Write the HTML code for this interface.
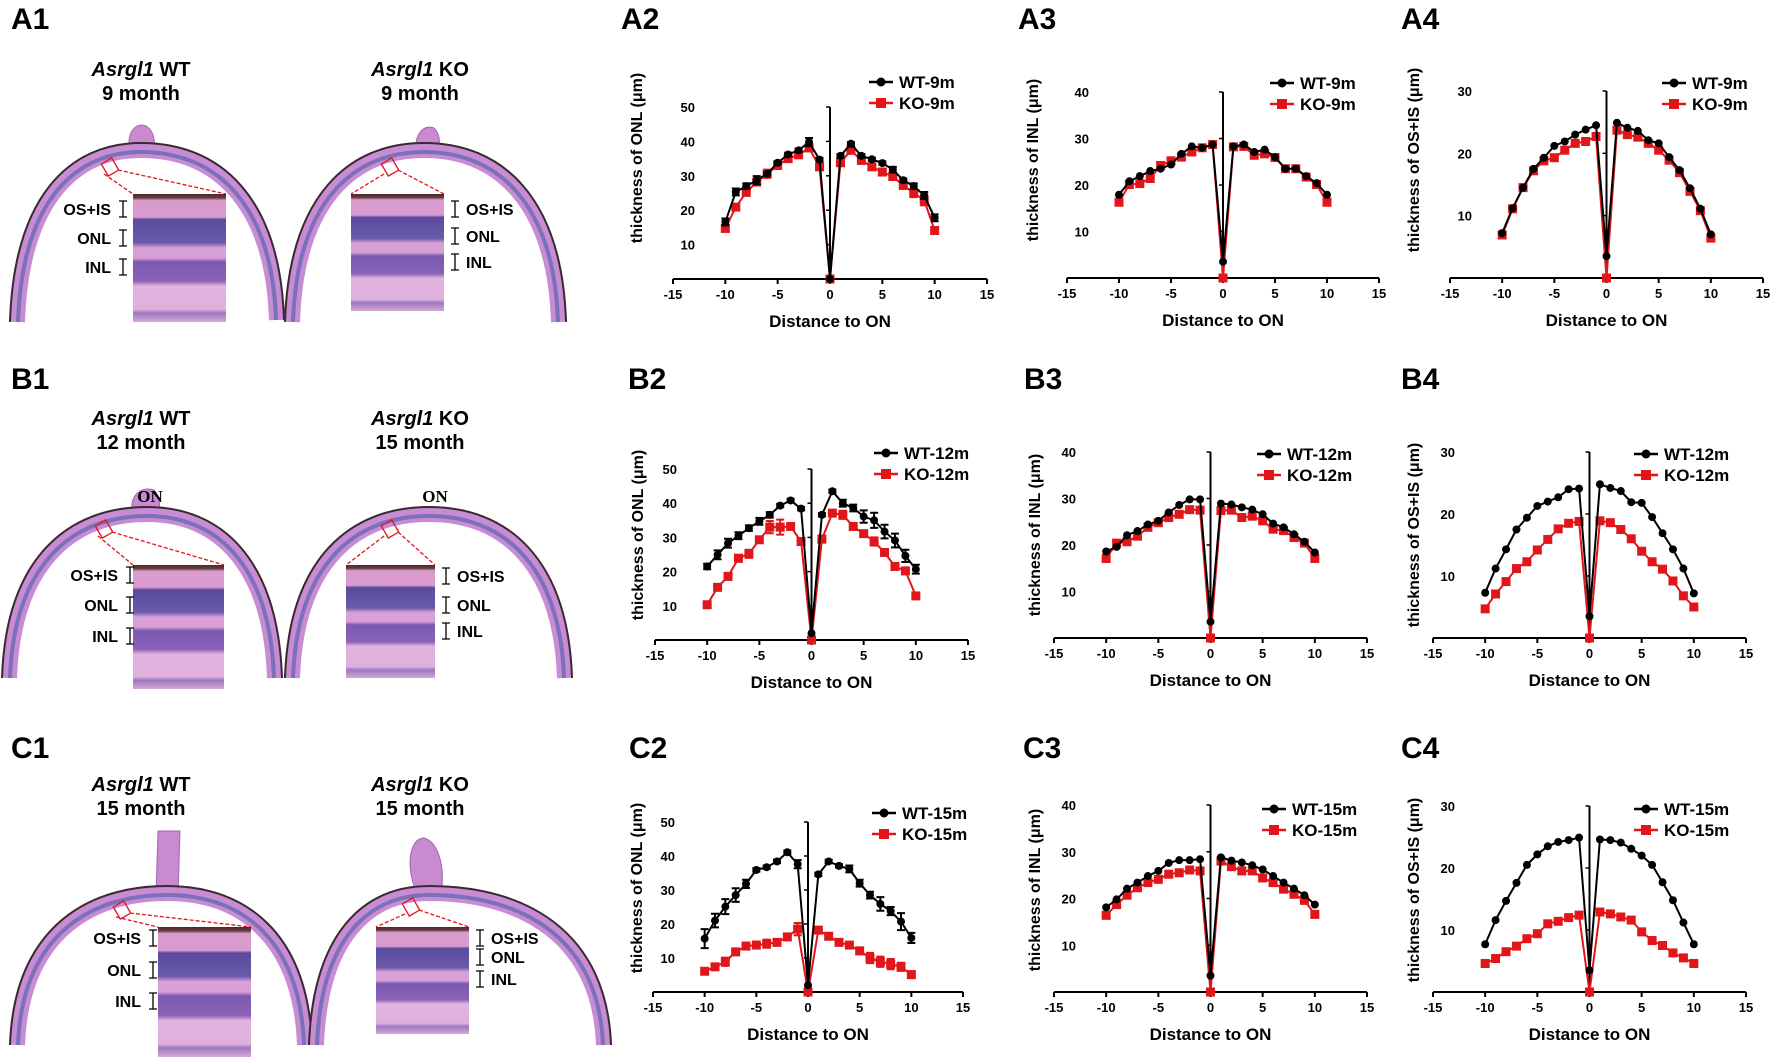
<!DOCTYPE html>
<html><head><meta charset="utf-8"><style>
html,body{margin:0;padding:0;background:#fff;}
svg{display:block;font-family:"Liberation Sans",Arial,sans-serif;}
</style></head><body>
<svg id="fig" width="1772" height="1060" viewBox="0 0 1772 1060" xmlns="http://www.w3.org/2000/svg">
<defs>
<linearGradient id="retA" x1="0" y1="0" x2="0" y2="1">
<stop offset="0" stop-color="#4a2a2a"/><stop offset="0.03" stop-color="#6a3a40"/>
<stop offset="0.05" stop-color="#d89ccc"/><stop offset="0.18" stop-color="#d99ad0"/>
<stop offset="0.2" stop-color="#5a4a9e"/><stop offset="0.38" stop-color="#6a5aaa"/>
<stop offset="0.42" stop-color="#d8a0d6"/><stop offset="0.5" stop-color="#d8a0d6"/>
<stop offset="0.53" stop-color="#7a5ab0"/><stop offset="0.68" stop-color="#8a62b8"/>
<stop offset="0.72" stop-color="#e3b3e0"/><stop offset="0.9" stop-color="#e0b0dc"/>
<stop offset="0.93" stop-color="#9a78c0"/><stop offset="1" stop-color="#d8a8d8"/>
</linearGradient>
</defs>
<g id="panels"></g>
<g id="charts"></g>
</svg>
<script>
const NS="http://www.w3.org/2000/svg";
const xs=[-10,-9,-8,-7,-6,-5,-4,-3,-2,-1,0,1,2,3,4,5,6,7,8,9,10];
const xTicks=[-15,-10,-5,0,5,10,15];
const A2W=[16.6,25.3,27,28.7,30.6,33.8,36.2,37.4,39.8,34.7,0,35.8,39.3,35.8,34.8,33.7,31.8,28.7,27,24.3,17.8];
const A2K=[14.7,20.9,25.2,28.2,30.6,33,35,36.1,38.1,32.6,0,33.8,37.4,34.5,32.6,31.1,29.8,27.2,25,22.9,14.1];
const A2We=[1,1,0.8,1.2,0.5,0.5,0.5,0.5,1.2,0.5,0,0.5,0.5,0.5,0.5,0.5,0.8,0.5,0.8,1,1];
const A2Ke=[0.8,0.8,1,1,1.2,0.8,0.5,0.5,0.5,0.5,0,1,0.8,1,0.8,1,0.5,0.8,1.2,1.5,0.8];
const A3W=[17.9,20.8,21.9,23,23.5,24.4,26.7,28.3,28,28.7,3.5,28.3,28.7,27.1,27.6,26,23.5,23.5,21.9,20.4,17.9];
const A3K=[16.3,20.1,20.3,21.4,24.2,25.2,26,27.1,28,28.7,0,28.2,28.3,26.4,26.7,25.9,23.5,23.5,21.7,20.1,16.3];
const A4W=[7.2,11.2,14.5,17.5,19.3,21.2,21.9,23,23.8,24.5,3.5,24.9,24.1,23.6,22.1,21.6,19.4,17.3,14.4,11.1,7];
const A4K=[6.9,11.1,14.5,17.2,18.8,19.3,20.5,21.6,21.9,22.7,0,23.7,23,22.6,21.6,20.5,18.9,16.9,13.9,10.8,6.4];
const B2W=[21.5,24.9,28.3,30.5,32.7,34.7,36.6,39.3,40.8,38.4,2,36.6,43.5,40,38.6,36.1,35,31.7,29.1,24.6,20.7];
const B2K=[10.3,15.4,18.6,23.9,25.2,29.3,33,33,33.2,28.8,0,29.5,37.1,36.6,33.2,31.1,28.8,25.6,21.5,20.2,12.9];
const B2We=[0.8,1.3,1.3,1,0.8,1,0.8,0.5,0.5,0.5,0,0.5,0.5,1,1,1.8,2.2,2,2,1.8,1.3];
const B2Ke=[0.5,0.5,1,1,1.2,0.5,1.8,2.2,0.5,0.5,0,1,0.5,1.2,0.5,0.5,1.2,0.5,0.5,0.5,0.5];
const B3W=[18.6,19.6,22.1,23,24.4,25.2,27,28.6,29.8,29.8,3.5,28.9,28.7,28.1,27.6,26.6,24.6,23.8,22.3,20.7,18.4];
const B3K=[17.1,20.4,20.7,21.9,23.8,24.8,25.9,26.6,27.6,27.5,0,27.4,27.5,25.9,26.2,25.2,23.4,23.1,21.6,20.4,17.1];
const B4W=[7.3,11.2,14.3,17.5,19.4,21.3,22,22.7,24,24.1,3.5,24.8,24.2,23.7,21.9,21.8,19.5,16.9,14.3,11.2,7.2];
const B4K=[4.7,7.1,9.1,11.2,12.3,14.2,15.9,17.6,18.5,18.8,0,18.9,18.6,17.5,16,14,12.3,11.1,9.2,6.8,5];
const C2W=[15.7,21,25.1,28.5,31.8,35.9,36.7,38.4,41.1,37.6,2,34.6,38.4,37.1,36.2,32,28.5,25.9,23.8,20.7,15.9];
const C2K=[6.1,7.4,8.9,11.8,13.5,13.8,14.2,14.6,16.2,18.5,0,18.2,16.4,14.6,13.8,12.1,10,8.9,8.2,7.4,5.1];
const C2We=[2.8,2,2.2,2,1.2,0.5,0.5,0.5,0.5,1.2,0,0.5,0.5,0.5,1,1,1,2,1.2,2.5,1.5];
const C2Ke=[0.5,0.5,1.2,0.5,1,1,1.2,0.5,0.5,1.8,0,0.5,0.5,0.5,0.5,0.5,1.5,1.5,1.5,1.2,1];
const C3W=[18.1,19.8,22.1,23.4,24.8,25.9,27.6,28.2,28.2,28.4,3.5,28.8,28.1,27.7,27.1,26.2,24.8,23.4,22.1,20.7,18.7];
const C3K=[16.4,18.7,20.7,22.3,23.4,24.1,25.2,25.5,26.1,25.9,0,28,26.8,25.9,25.9,24.4,23.4,22,20.9,19.6,16.6];
const C4W=[7.7,11.6,14.7,17.6,20.5,22.2,23.5,24.2,24.5,24.9,3.5,24.6,24.5,24.1,23.1,22,20.5,17.7,14.8,11.2,7.7];
const C4K=[4.6,5.4,6.5,7.4,8.6,9.4,11,11.4,12,12.4,0,12.9,12.6,12.1,11.6,9.7,8.3,7.5,6.3,5.5,4.6];

function mk(tag,attrs,parent,txt){const e=document.createElementNS(NS,tag);for(const k in attrs)e.setAttribute(k,attrs[k]);if(txt!==undefined)e.textContent=txt;parent.appendChild(e);return e;}

const charts=[
 {id:"a2",x0:673,x1:987,y0:279,yt:107,ym:50,yl:"thickness of ONL (μm)",tx:638,ty:158,lx:869,ly:82,lg:["WT-9m","KO-9m"],W:A2W,K:A2K,We:A2We,Ke:A2Ke},
 {id:"a3",x0:1067,x1:1379,y0:278,yt:92,ym:40,yl:"thickness of INL (μm)",tx:1034,ty:160,lx:1270,ly:83,lg:["WT-9m","KO-9m"],W:A3W,K:A3K},
 {id:"a4",x0:1450,x1:1763,y0:278,yt:91,ym:30,yl:"thickness of OS+IS (μm)",tx:1415,ty:160,lx:1662,ly:83,lg:["WT-9m","KO-9m"],W:A4W,K:A4K},
 {id:"b2",x0:655,x1:968,y0:640,yt:469,ym:50,yl:"thickness of ONL (μm)",tx:639,ty:535,lx:874,ly:453,lg:["WT-12m","KO-12m"],W:B2W,K:B2K,We:B2We,Ke:B2Ke},
 {id:"b3",x0:1054,x1:1367,y0:638,yt:452,ym:40,yl:"thickness of INL (μm)",tx:1036,ty:535,lx:1257,ly:454,lg:["WT-12m","KO-12m"],W:B3W,K:B3K},
 {id:"b4",x0:1433,x1:1746,y0:638,yt:452,ym:30,yl:"thickness of OS+IS (μm)",tx:1415,ty:535,lx:1634,ly:454,lg:["WT-12m","KO-12m"],W:B4W,K:B4K},
 {id:"c2",x0:653,x1:963,y0:992,yt:822,ym:50,yl:"thickness of ONL (μm)",tx:638,ty:888,lx:872,ly:813,lg:["WT-15m","KO-15m"],W:C2W,K:C2K,We:C2We,Ke:C2Ke},
 {id:"c3",x0:1054,x1:1367,y0:992,yt:805,ym:40,yl:"thickness of INL (μm)",tx:1036,ty:890,lx:1262,ly:809,lg:["WT-15m","KO-15m"],W:C3W,K:C3K},
 {id:"c4",x0:1433,x1:1746,y0:992,yt:806,ym:30,yl:"thickness of OS+IS (μm)",tx:1415,ty:890,lx:1634,ly:809,lg:["WT-15m","KO-15m"],W:C4W,K:C4K}
];
const root=document.getElementById("charts");
charts.forEach(c=>{
 const g=mk("g",{},root);
 
 
 const X=v=>c.x0+(v+15)/30*(c.x1-c.x0);
 const Y=v=>c.y0-v/c.ym*(c.y0-c.yt);
 // axes
 const xa=mk("line",{x1:c.x0,y1:c.y0,x2:c.x1,y2:c.y0,stroke:"#000","stroke-width":2},g);
 
 
 const ya=mk("line",{x1:X(0),y1:c.y0,x2:X(0),y2:c.yt,stroke:"#000","stroke-width":2},g);
 
 
 xTicks.forEach(t=>{
  mk("line",{x1:X(t),y1:c.y0,x2:X(t),y2:c.y0+5,stroke:"#000","stroke-width":2},g);
  const tl=mk("text",{x:X(t),y:c.y0+20,"text-anchor":"middle","font-size":13,"font-weight":"bold"},g,String(t));
  
  
 });
 for(let v=10;v<=c.ym;v+=10){
  mk("line",{x1:X(0)-4,y1:Y(v),x2:X(0),y2:Y(v),stroke:"#000","stroke-width":1.5},g);
  const tl=mk("text",{x:c.x0+22,y:Y(v)+5,"text-anchor":"end","font-size":13,"font-weight":"bold"},g,String(v));
  
  
 }
 const yt=mk("text",{x:c.tx,y:c.ty,"text-anchor":"middle","font-size":16,"font-weight":"bold",transform:`rotate(-90 ${c.tx} ${c.ty})`,"dominant-baseline":"middle"},g,c.yl);
 
 
 const xt=mk("text",{x:X(0),y:c.y0+48,"text-anchor":"middle","font-size":17,"font-weight":"bold"},g,"Distance to ON");
 
 
 // series
 [[c.K,c.Ke,"#e0161b","sq"],[c.W,c.We,"#000","ci"]].forEach(([vals,errs,col,m],si)=>{
  const sg=mk("g",{},g);
  
  
  mk("polyline",{points:xs.map((x,i)=>X(x)+","+Y(vals[i])).join(" "),fill:"none",stroke:col,"stroke-width":2},sg);
  xs.forEach((x,i)=>{
   const e=errs?errs[i]:0;
   if(e>0){
    mk("path",{d:`M${X(x)},${Y(vals[i]+e)}V${Y(vals[i]-e)}M${X(x)-4},${Y(vals[i]+e)}h8M${X(x)-4},${Y(vals[i]-e)}h8`,stroke:col,"stroke-width":2,fill:"none"},sg);
   }
   let p;
   if(m==="sq") p=mk("rect",{x:X(x)-4.5,y:Y(vals[i])-4.5,width:9,height:9,fill:col},sg);
   else p=mk("circle",{cx:X(x),cy:Y(vals[i]),r:4,fill:col},sg);
   
   
  });
 });
 // legend
 c.lg.forEach((name,i)=>{
  const lg=mk("g",{},g);
  
  
  const yy=c.ly+i*21, col=i?"#e0161b":"#000";
  mk("line",{x1:c.lx,y1:yy,x2:c.lx+24,y2:yy,stroke:col,"stroke-width":2.5},lg);
  if(i) mk("rect",{x:c.lx+7,y:yy-5,width:10,height:10,fill:col},lg);
  else mk("circle",{cx:c.lx+12,cy:yy,r:4.5,fill:col},lg);
  mk("text",{x:c.lx+30,y:yy+6,"font-size":17,"font-weight":"bold"},lg,name);
 });
});

// panel labels
const P=document.getElementById("panels");
[["A1",11,29],["A2",621,29],["A3",1018,29],["A4",1401,29],["B1",11,389],["B2",628,389],["B3",1024,389],["B4",1401,389],["C1",11,758],["C2",629,758],["C3",1023,758],["C4",1401,758]].forEach(([t,x,y])=>{
 const e=mk("text",{x:x,y:y,"font-size":30,"font-weight":"bold"},P,t);
 
 
});

function eyePath(lx,ly,tx,ty,rx,ry){
 return `M${lx},${ly} C${lx+4},${ty+(ly-ty)*0.3} ${tx-(tx-lx)*0.55},${ty} ${tx},${ty} C${tx+(rx-tx)*0.55},${ty} ${rx-4},${ty+(ry-ty)*0.3} ${rx},${ry}`;
}
function eye(o){
 const g=mk("g",{},P);
 
 
 if(o.stub) mk("path",{d:o.stub,fill:"#c98ad2",stroke:"#a066b0","stroke-width":1},g);
 mk("path",{d:eyePath(o.l[0],o.l[1],o.t[0],o.t[1],o.r[0],o.r[1]),fill:"none",stroke:"#c88cd4","stroke-width":16},g);
 mk("path",{d:eyePath(o.l[0]+1,o.l[1],o.t[0],o.t[1]+2,o.r[0]-1,o.r[1]),fill:"none",stroke:"#7c70b8","stroke-width":4},g);
 mk("path",{d:eyePath(o.l[0]-7,o.l[1],o.t[0],o.t[1]-7,o.r[0]+7,o.r[1]),fill:"none",stroke:"#3a2a30","stroke-width":2},g);
 const b=o.box, ins=o.ins;
 mk("rect",{x:b[0],y:b[1],width:12,height:14,fill:"none",stroke:"#e0161b","stroke-width":1.3,transform:`rotate(-30 ${b[0]+6} ${b[1]+7})`},g);
 mk("line",{x1:b[0],y1:b[1]+14,x2:ins[0],y2:ins[1],stroke:"#e0161b","stroke-width":1.3,"stroke-dasharray":"4,2"},g);
 mk("line",{x1:b[0]+14,y1:b[1]+10,x2:ins[2],y2:ins[1],stroke:"#e0161b","stroke-width":1.3,"stroke-dasharray":"4,2"},g);
 const r=mk("rect",{x:ins[0],y:ins[1],width:ins[2]-ins[0],height:ins[3]-ins[1],fill:"url(#retA)"},g);
 
 
 const names=["OS+IS","ONL","INL"];
 o.lab.forEach((yy,i)=>{
  const bx=o.right?o.lx+0:o.lx-0;
  const brX=o.right?o.lx+5:o.lx+12;
  mk("path",{d:`M${brX-4},${yy-8}h8M${brX},${yy-8}V${yy+8}M${brX-4},${yy+8}h8`,stroke:"#000","stroke-width":1.3,fill:"none"},g);
  const t=mk("text",{x:o.right?o.lx+16:o.lx,y:yy+6,"text-anchor":o.right?"start":"end","font-size":16,"font-weight":"bold"},g,names[i]);
  
  
 });
 if(o.on){const t=mk("text",{x:o.on[0],y:o.on[1],"text-anchor":"middle","font-size":17,"font-weight":"bold","font-family":"Liberation Serif, serif"},g,"ON");}
 // titles
 const t1=mk("text",{x:o.tc,y:o.tb,"text-anchor":"middle","font-size":20,"font-weight":"bold"},P);
 mk("tspan",{"font-style":"italic"},t1,"Asrgl1");
 mk("tspan",{},t1," "+o.g);
 
 
 const t2=mk("text",{x:o.tc,y:o.tb+24,"text-anchor":"middle","font-size":20,"font-weight":"bold"},P,o.age);
 
 
}
eye({l:[17,322],t:[141,150],r:[277,320],stub:"M130,150 C126,132 136,122 146,126 C156,132 156,148 152,156 Z",box:[104,160],ins:[133,194,226,322],lab:[209,238,267],lx:111,tc:141,tb:76,g:"WT",age:"9 month"});
eye({l:[292,322],t:[424,150],r:[559,322],stub:"M416,152 C414,134 424,124 434,128 C442,136 440,150 436,156 Z",box:[384,160],ins:[351,194,444,311],lab:[209,236,262],lx:450,right:true,tc:420,tb:76,g:"KO",age:"9 month"});
eye({l:[9,678],t:[147,514],r:[275,678],stub:"M132,512 C130,494 142,486 154,490 C162,498 160,512 156,520 Z",box:[98,522],ins:[133,565,224,689],lab:[575,605,636],lx:118,on:[150,502],tc:141,tb:425,g:"WT",age:"12 month"});
eye({l:[292,678],t:[429,514],r:[565,678],box:[384,522],ins:[346,565,435,678],lab:[576,605,631],lx:441,right:true,on:[435,502],tc:420,tb:425,g:"KO",age:"15 month"});
eye({l:[17,1045],t:[167,893],r:[305,1045],stub:"M156,896 L158,831 L180,831 L178,896 Z",box:[116,903],ins:[158,927,251,1057],lab:[938,970,1001],lx:141,tc:141,tb:791,g:"WT",age:"15 month"});
eye({l:[316,1045],t:[429,893],r:[604,1045],stub:"M418,896 C404,866 410,838 424,838 C440,842 446,872 440,898 Z",box:[405,900],ins:[376,927,469,1034],lab:[938,957,979],lx:475,right:true,tc:420,tb:791,g:"KO",age:"15 month"});
</script>
</body></html>
